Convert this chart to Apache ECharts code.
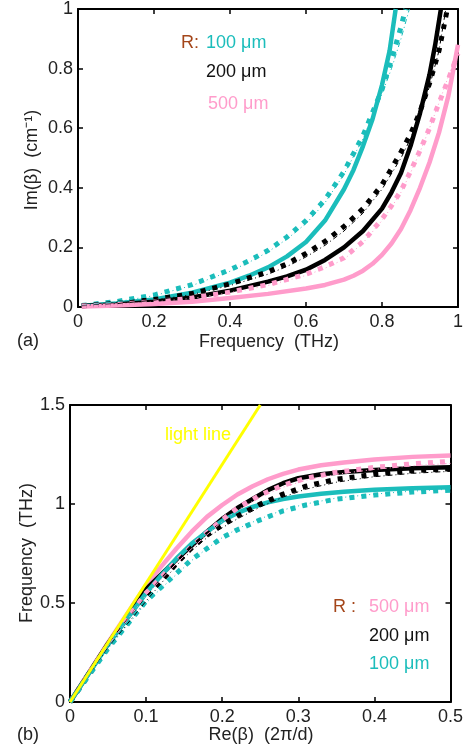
<!DOCTYPE html>
<html><head><meta charset="utf-8">
<script src="https://cdn.jsdelivr.net/npm/echarts@6/dist/echarts.min.js"></script>
<style>html,body{margin:0;padding:0;background:#fff}#c{width:466px;height:750px}</style>
</head><body><div id="c"></div>
<script>
// ---------- Panel (a): Im(beta) vs Frequency ----------
const xTicksA = [0, 0.2, 0.4, 0.6, 0.8, 1];
const yTicksA = [0, 0.2, 0.4, 0.6, 0.8, 1];

const tealSolidA_f = [0.01,0.1,0.2,0.3,0.4,0.45,0.5,0.55,0.6,0.65,0.7,0.725,0.75,0.775,0.8,0.82,0.836];
const tealSolidA_v = [0.004,0.012,0.025,0.048,0.082,0.105,0.133,0.17,0.218,0.29,0.395,0.46,0.54,0.63,0.745,0.86,1.0];
const tealDashA_f  = [0.01,0.1,0.2,0.3,0.4,0.45,0.5,0.55,0.6,0.65,0.7,0.75,0.8,0.825,0.85,0.862];
const tealDashA_v  = [0.005,0.018,0.04,0.075,0.125,0.155,0.19,0.235,0.29,0.36,0.455,0.575,0.73,0.83,0.94,1.0];
const tealDotA_f   = [0.01,0.1,0.2,0.3,0.4,0.45,0.5,0.55,0.6,0.65,0.7,0.75,0.8,0.825,0.85,0.872];
const tealDotA_v   = [0.005,0.017,0.038,0.072,0.12,0.15,0.185,0.228,0.28,0.35,0.445,0.565,0.715,0.8,0.9,1.0];

const blackSolidA_f = [0.01,0.1,0.2,0.3,0.4,0.5,0.55,0.6,0.65,0.7,0.75,0.8,0.825,0.85,0.875,0.9,0.925,0.94,0.955];
const blackSolidA_v = [0.003,0.008,0.018,0.032,0.055,0.085,0.103,0.125,0.158,0.2,0.255,0.33,0.385,0.45,0.54,0.65,0.78,0.88,1.0];
const blackDashA_f  = [0.01,0.1,0.2,0.3,0.4,0.5,0.55,0.6,0.65,0.7,0.75,0.8,0.85,0.875,0.9,0.925,0.95,0.972];
const blackDashA_v  = [0.004,0.012,0.025,0.045,0.078,0.118,0.145,0.18,0.22,0.27,0.33,0.41,0.52,0.58,0.655,0.75,0.86,1.0];
const blackDotA_f   = [0.01,0.1,0.2,0.3,0.4,0.5,0.55,0.6,0.65,0.7,0.75,0.8,0.85,0.875,0.9,0.925,0.95,0.968];
const blackDotA_v   = [0.004,0.011,0.023,0.042,0.072,0.11,0.136,0.168,0.207,0.255,0.315,0.395,0.5,0.565,0.64,0.74,0.86,1.0];

const pinkSolidA_f = [0.01,0.1,0.2,0.3,0.4,0.5,0.6,0.65,0.7,0.725,0.75,0.775,0.8,0.825,0.85,0.875,0.9,0.925,0.95,0.975,1.0];
const pinkSolidA_v = [0.002,0.005,0.01,0.018,0.03,0.044,0.062,0.074,0.092,0.105,0.122,0.145,0.175,0.213,0.262,0.325,0.40,0.485,0.585,0.71,0.88];
const pinkDashA_f  = [0.01,0.1,0.2,0.3,0.4,0.5,0.6,0.65,0.7,0.75,0.8,0.825,0.85,0.875,0.9,0.925,0.95,0.975,1.0];
const pinkDashA_v  = [0.003,0.008,0.018,0.03,0.05,0.075,0.11,0.135,0.165,0.22,0.295,0.34,0.39,0.455,0.525,0.6,0.685,0.765,0.85];
const pinkDotA_f   = [0.01,0.1,0.2,0.3,0.4,0.5,0.6,0.65,0.7,0.75,0.8,0.825,0.85,0.875,0.9,0.925,0.95,0.975,1.0];
const pinkDotA_v   = [0.003,0.008,0.017,0.029,0.048,0.072,0.106,0.13,0.16,0.215,0.29,0.335,0.385,0.45,0.52,0.6,0.685,0.775,0.87];

// ---------- Panel (b): Frequency vs Re(beta) ----------
const xTicksB = [0, 0.1, 0.2, 0.3, 0.4, 0.5];
const yTicksB = [0, 0.5, 1, 1.5];

const lightB_re = [0, 0.25];
const lightB_fr = [0, 1.5];

const solidB_re = [0,0.05,0.1,0.12,0.14,0.16,0.18,0.2,0.22,0.24,0.26,0.28,0.3,0.33,0.36,0.4,0.45,0.5];
const pinkSolidB_fr  = [0,0.3,0.59,0.685,0.775,0.86,0.935,0.995,1.048,1.09,1.125,1.152,1.174,1.196,1.21,1.225,1.238,1.245];
const blackSolidB_fr = [0,0.295,0.57,0.645,0.72,0.79,0.86,0.925,0.98,1.025,1.07,1.105,1.13,1.15,1.162,1.172,1.18,1.185];
const tealSolidB_fr  = [0,0.29,0.55,0.64,0.725,0.8,0.86,0.915,0.955,0.985,1.008,1.025,1.038,1.052,1.062,1.072,1.08,1.085];

const brokenB_re = [0,0.05,0.1,0.12,0.14,0.16,0.18,0.2,0.22,0.25,0.28,0.31,0.35,0.4,0.45,0.5];
const pinkDashB_fr  = [0,0.29,0.55,0.63,0.71,0.785,0.855,0.92,0.98,1.045,1.095,1.13,1.16,1.185,1.203,1.215];
const pinkDotB_fr   = [0,0.285,0.54,0.62,0.7,0.775,0.845,0.91,0.97,1.035,1.085,1.12,1.15,1.175,1.193,1.205];
const blackDashB_fr = [0,0.28,0.52,0.61,0.70,0.78,0.845,0.895,0.94,1.0,1.05,1.09,1.125,1.15,1.168,1.178];
const blackDotB_fr  = [0,0.275,0.51,0.6,0.69,0.765,0.83,0.88,0.925,0.985,1.035,1.075,1.11,1.138,1.155,1.165];
const tealDashB_fr  = [0,0.27,0.51,0.58,0.65,0.72,0.775,0.83,0.87,0.92,0.965,0.995,1.025,1.045,1.06,1.07];
const tealDotB_fr   = [0,0.27,0.5,0.575,0.645,0.715,0.775,0.83,0.875,0.925,0.97,1.0,1.03,1.05,1.065,1.075];

// ---------- styles ----------
const TEAL = '#1bbdbb', BLACK = '#000000', PINK = '#ff9ccb', BROWN = '#a4461a', YELLOW = '#ffff00';
const FONT = 'Liberation Sans, Arial, Helvetica, sans-serif';

function zip(xs, ys){ return xs.map((x,i)=>[x, ys[i]]); }
function base(name, xs, ys, xi, yi){
  return {name, type:'line', xAxisIndex:xi, yAxisIndex:yi, data:zip(xs,ys), smooth:false,
    showSymbol:false, symbol:'none', clip:true, silent:true};
}
function solid(name, xs, ys, color, xi, yi){
  return Object.assign(base(name,xs,ys,xi,yi), {lineStyle:{color, width:4.5, cap:'butt', join:'round'}});
}
function dashed(name, xs, ys, color, xi, yi){
  return Object.assign(base(name,xs,ys,xi,yi), {lineStyle:{color, width:5, type:[5,7], cap:'butt', join:'round'}});
}
function dashdot(name, xs, ys, color, xi, yi){
  return Object.assign(base(name,xs,ys,xi,yi), {lineStyle:{color, width:1, type:[5,3,1,3], cap:'butt'}});
}

function axis(grid, pos, ticks, showLabel){
  return {
    gridIndex:grid, type:'value', position:pos,
    min:ticks[0], max:ticks[ticks.length-1], interval:ticks[1]-ticks[0],
    axisLine:{show:true, onZero:false, lineStyle:{color:'#000', width:2}},
    axisTick:{show:true, inside:true, length:5, lineStyle:{color:'#000', width:1.5}},
    axisLabel:{show:showLabel, fontSize:18, fontFamily:FONT, color:'#222',
      margin:(pos==='bottom'||pos==='top')?6:5, formatter:(v)=>String(+(+v).toFixed(2))},
    splitLine:{show:false}
  };
}

const chart = echarts.init(document.getElementById('c'), null, {renderer:'canvas'});

function txt(x, y, text, color, align){
  return {type:'text', x, y, style:{text, fill:color, font:'18px '+FONT,
    textAlign:align||'left', textVerticalAlign:'middle'}};
}

const option = {
  animation:false,
  backgroundColor:'#fff',
  grid:[
    {left:78, top:8, width:383, height:299},
    {left:70, top:405, width:382, height:297}
  ],
  xAxis:[
    axis(0,'bottom',xTicksA,true), axis(0,'top',xTicksA,false),
    axis(1,'bottom',xTicksB,true), axis(1,'top',xTicksB,false)
  ],
  yAxis:[
    axis(0,'left',yTicksA,true), axis(0,'right',yTicksA,false),
    axis(1,'left',yTicksB,true), axis(1,'right',yTicksB,false)
  ],
  series:[
    // panel a
    solid('t-s-a', tealSolidA_f, tealSolidA_v, TEAL, 0, 0),
    solid('k-s-a', blackSolidA_f, blackSolidA_v, BLACK, 0, 0),
    solid('p-s-a', pinkSolidA_f, pinkSolidA_v, PINK, 0, 0),
    dashed('t-d-a', tealDashA_f, tealDashA_v, TEAL, 0, 0),
    dashed('k-d-a', blackDashA_f, blackDashA_v, BLACK, 0, 0),
    dashed('p-d-a', pinkDashA_f, pinkDashA_v, PINK, 0, 0),
    dashdot('t-dd-a', tealDotA_f, tealDotA_v, TEAL, 0, 0),
    dashdot('k-dd-a', blackDotA_f, blackDotA_v, BLACK, 0, 0),
    dashdot('p-dd-a', pinkDotA_f, pinkDotA_v, PINK, 0, 0),
    // panel b
    solid('p-s-b', solidB_re, pinkSolidB_fr, PINK, 2, 2),
    solid('k-s-b', solidB_re, blackSolidB_fr, BLACK, 2, 2),
    solid('t-s-b', solidB_re, tealSolidB_fr, TEAL, 2, 2),
    dashed('p-d-b', brokenB_re, pinkDashB_fr, PINK, 2, 2),
    dashed('k-d-b', brokenB_re, blackDashB_fr, BLACK, 2, 2),
    dashed('t-d-b', brokenB_re, tealDashB_fr, TEAL, 2, 2),
    dashdot('p-dd-b', brokenB_re, pinkDotB_fr, PINK, 2, 2),
    dashdot('k-dd-b', brokenB_re, blackDotB_fr, BLACK, 2, 2),
    dashdot('t-dd-b', brokenB_re, tealDotB_fr, TEAL, 2, 2),
    Object.assign(base('light line', lightB_re, lightB_fr, 2, 2), {lineStyle:{color:YELLOW, width:3}})
  ],
  graphic:[
    // panel a texts
    txt(181, 43, 'R:', BROWN),
    txt(206, 43, '100 \u03bcm', TEAL),
    txt(206, 72, '200 \u03bcm', '#111'),
    txt(208, 104, '500 \u03bcm', PINK),
    txt(269, 342, 'Frequency  (THz)', '#222', 'center'),
    txt(17, 341, '(a)', '#222'),
    {type:'text', x:32, y:160, rotation:Math.PI/2,
      style:{text:'Im(\u03b2)  (cm\u207b\u00b9)', fill:'#222', font:'18px '+FONT, textAlign:'center', textVerticalAlign:'middle'}},
    // panel b texts
    txt(165, 435, 'light line', YELLOW),
    txt(333, 607, 'R :', BROWN),
    txt(369, 607, '500 \u03bcm', PINK),
    txt(369, 636, '200 \u03bcm', '#111'),
    txt(369, 664, '100 \u03bcm', TEAL),
    txt(261, 735, 'Re(\u03b2)  (2\u03c0/d)', '#222', 'center'),
    txt(17, 735, '(b)', '#222'),
    {type:'text', x:27, y:553, rotation:Math.PI/2,
      style:{text:'Frequency  (THz)', fill:'#222', font:'18px '+FONT, textAlign:'center', textVerticalAlign:'middle'}}
  ]
};
chart.setOption(option);
</script>
</body></html>
